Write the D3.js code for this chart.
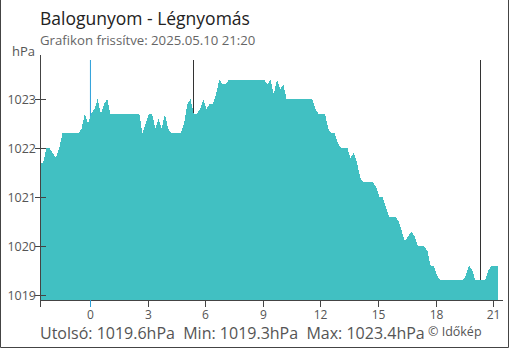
<!DOCTYPE html>
<html>
<head>
<meta charset="utf-8">
<script src="https://cdn.jsdelivr.net/npm/d3@7"></script>
<style>
  body { margin: 0; background: #fff; }
  svg text { font-family: "Open Sans", sans-serif; white-space: pre; }
</style>
</head>
<body>
<div id="chart"></div>
<script>
// pressure readings, every 10 minutes (hPa)
var pressure = [
  1021.7, 1021.7, 1022.0, 1022.0, 1021.9, 1021.8, 1022.0, 1022.3, 1022.3, 1022.3, 1022.3, 1022.3,
  1022.3, 1022.4, 1022.7, 1022.5, 1022.7, 1022.8, 1023.0, 1022.7, 1022.9, 1023.0, 1022.7, 1022.7,
  1022.7, 1022.7, 1022.7, 1022.7, 1022.7, 1022.7, 1022.7, 1022.7, 1022.3, 1022.5, 1022.7, 1022.7,
  1022.4, 1022.6, 1022.4, 1022.7, 1022.4, 1022.3, 1022.3, 1022.3, 1022.3, 1022.5, 1022.9, 1023.0,
  1022.7, 1022.7, 1022.8, 1023.0, 1022.8, 1022.9, 1022.9, 1023.1, 1023.4, 1023.3, 1023.3, 1023.4,
  1023.4, 1023.4, 1023.4, 1023.4, 1023.4, 1023.4, 1023.4, 1023.4, 1023.4, 1023.4, 1023.4, 1023.3,
  1023.4, 1023.1, 1023.4, 1023.2, 1023.3, 1023.0, 1023.0, 1023.0, 1023.0, 1023.0, 1023.0, 1023.0,
  1023.0, 1023.0, 1022.8, 1022.7, 1022.7, 1022.7, 1022.4, 1022.3, 1022.3, 1022.1, 1022.0, 1022.0,
  1022.0, 1021.8, 1021.9, 1021.7, 1021.4, 1021.3, 1021.3, 1021.3, 1021.3, 1021.2, 1021.0, 1021.0,
  1020.8, 1020.6, 1020.6, 1020.6, 1020.5, 1020.3, 1020.1, 1020.2, 1020.3, 1020.2, 1020.0, 1020.0,
  1020.0, 1019.9, 1019.6, 1019.6, 1019.4, 1019.3, 1019.3, 1019.3, 1019.3, 1019.3, 1019.3, 1019.3,
  1019.3, 1019.4, 1019.6, 1019.5, 1019.3, 1019.3, 1019.3, 1019.3, 1019.5, 1019.6, 1019.6, 1019.6
];
var startHour = -2.6;      // first reading, hours from midnight
var stepHours = 1 / 6;     // 10 minutes
var xTicks = [0, 3, 6, 9, 12, 15, 18, 21];
var yTicks = [1019, 1020, 1021, 1022, 1023];
var sunLines = [5.38, 20.28];   // sunrise, sunset
var midnight = 0;

var title = "Balogunyom - Légnyomás";
var subtitle = "Grafikon frissítve: 2025.05.10 21:20";
var footer = "Utolsó: 1019.6hPa  Min: 1019.3hPa  Max: 1023.4hPa";

var W = 510, H = 350;
var svg = d3.select("#chart").append("svg")
    .attr("width", W)
    .attr("height", H);

var x = d3.scaleLinear().domain([-2.6, 21.5]).range([40, 503]);
var y = d3.scaleLinear().domain([1018.9, 1023.9]).range([300, 55]);

var data = pressure.map(function(v, i) {
  return { t: startHour + i * stepHours, v: v };
});

// frame
svg.append("path")
    .attr("d", "M0.5,0V347.5H508.5V0")
    .attr("fill", "none")
    .attr("stroke", "#444");

// vertical marker lines (behind area)
svg.append("line")
    .attr("x1", x(midnight) + 0.5).attr("x2", x(midnight) + 0.5)
    .attr("y1", 60).attr("y2", 300)
    .attr("stroke", "#2b9fd9");
svg.selectAll(".sun")
    .data(sunLines)
  .enter().append("line")
    .attr("class", "sun")
    .attr("x1", function(d) { return Math.round(x(d)) + 0.5; })
    .attr("x2", function(d) { return Math.round(x(d)) + 0.5; })
    .attr("y1", 60).attr("y2", 300)
    .attr("stroke", "#333");

// area
var area = d3.area()
    .x(function(d) { return x(d.t); })
    .y0(y(1018.9))
    .y1(function(d) { return y(d.v); });

svg.append("path")
    .datum(data)
    .attr("d", area)
    .attr("fill", "#41c0c2")
    .attr("shape-rendering", "crispEdges");

// y axis
svg.append("line")
    .attr("x1", 40.5).attr("x2", 40.5)
    .attr("y1", 55).attr("y2", 300)
    .attr("stroke", "#444");
var yt = svg.selectAll(".ytick")
    .data(yTicks)
  .enter().append("g")
    .attr("class", "ytick")
    .attr("transform", function(d) { return "translate(0," + (Math.round(y(d)) + 0.5) + ")"; });
yt.append("line")
    .attr("x1", 35).attr("x2", 46)
    .attr("stroke", "#444");
yt.append("text")
    .attr("x", 36)
    .attr("dy", "0.35em")
    .attr("text-anchor", "end")
    .attr("font-size", "12.5px")
    .attr("fill", "#555")
    .text(function(d) { return d; });

svg.append("text")
    .attr("x", 12).attr("y", 56)
    .attr("font-size", "13px")
    .attr("fill", "#555")
    .text("hPa");

// x axis
svg.append("line")
    .attr("x1", 40).attr("x2", 503)
    .attr("y1", 300.5).attr("y2", 300.5)
    .attr("stroke", "#444");
svg.append("line")
    .attr("x1", 40.5).attr("x2", 40.5)
    .attr("y1", 300).attr("y2", 307)
    .attr("stroke", "#444");
var xt = svg.selectAll(".xtick")
    .data(xTicks)
  .enter().append("g")
    .attr("class", "xtick")
    .attr("transform", function(d) { return "translate(" + (Math.round(x(d)) + 0.5) + ",0)"; });
xt.append("line")
    .attr("y1", 300).attr("y2", 307)
    .attr("stroke", function(d) { return d === midnight ? "#2b9fd9" : "#444"; });
xt.append("text")
    .attr("y", 319)
    .attr("text-anchor", "middle")
    .attr("font-size", "12px")
    .attr("fill", "#555")
    .text(function(d) { return d; });

// texts
svg.append("text")
    .attr("x", 40).attr("y", 25)
    .attr("font-size", "17.5px")
    .attr("fill", "#222")
    .text(title);
svg.append("text")
    .attr("x", 40).attr("y", 45)
    .attr("font-size", "13.2px")
    .attr("fill", "#666")
    .text(subtitle);
svg.append("text")
    .attr("x", 40).attr("y", 339)
    .attr("font-size", "16px")
    .attr("fill", "#555")
    .text(footer);
svg.append("text")
    .attr("x", 428).attr("y", 336)
    .attr("font-size", "12.5px")
    .attr("fill", "#555")
    .text("© Időkép");
</script>
</body>
</html>
